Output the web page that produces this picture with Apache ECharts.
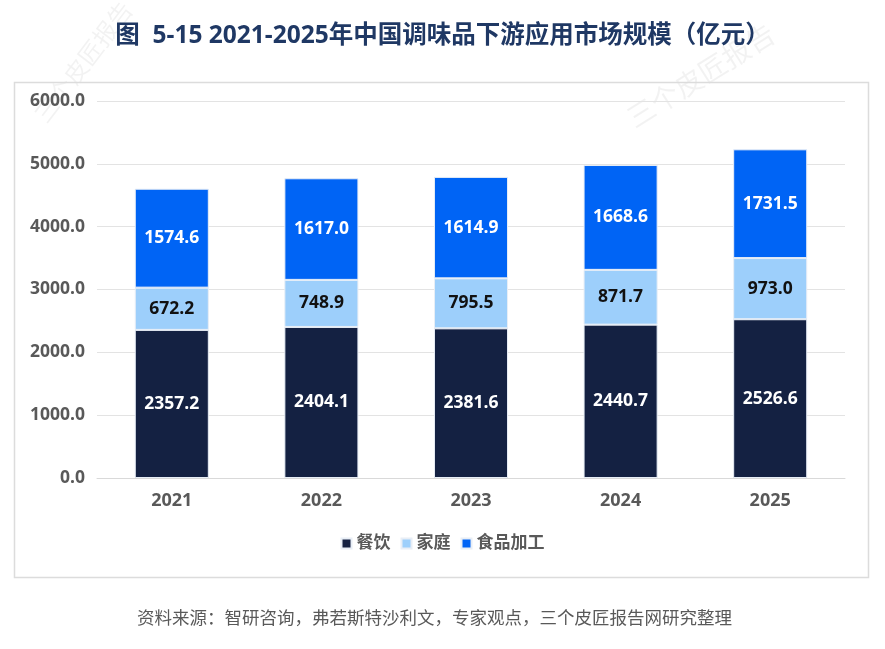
<!DOCTYPE html>
<html>
<head>
<meta charset="utf-8">
<script src="https://cdn.jsdelivr.net/npm/echarts@6/dist/echarts.min.js"></script>
<style>
  html, body { margin: 0; padding: 0; background: #fff; }
  #chart { width: 885px; height: 649px; }
</style>
</head>
<body>
<div id="chart"></div>
<script>
var years = ['2021', '2022', '2023', '2024', '2025'];
var dining = [2357.2, 2404.1, 2381.6, 2440.7, 2526.6];
var household = [672.2, 748.9, 795.5, 871.7, 973.0];
var processing = [1574.6, 1617.0, 1614.9, 1668.6, 1731.5];
var seriesNames = ['餐饮', '家庭', '食品加工'];

var font = '"Open Sans", "Noto Sans CJK SC", sans-serif';
var myChart = echarts.init(document.getElementById('chart'));

function labelStyle(color) {
  return {
    show: true,
    position: 'inside',
    color: color,
    fontSize: 17.5,
    fontWeight: 'bold',
    fontFamily: font,
    formatter: function (p) { return p.value.toFixed(1); }
  };
}

var option = {
  backgroundColor: '#fff',
  animation: false,
  title: {
    text: '图  5-15 2021-2025年中国调味品下游应用市场规模（亿元）',
    left: 'center',
    top: 19,
    textStyle: { color: '#1F3864', fontSize: 24.5, fontWeight: 'bold', fontFamily: font }
  },
  graphic: [
    { type: 'rect', left: 12, top: 80, shape: { width: 854, height: 495 },
      style: { fill: 'none', stroke: '#dcdcdc', lineWidth: 1.5 }, z: -1 },
    { type: 'text', x: 30, y: 112, rotation: 0.92,
      style: { text: '三个皮匠报告', fill: 'rgba(0,0,0,0.05)', font: '24px "Noto Sans CJK SC"' }, z: -2 },
    { type: 'text', x: 622, y: 108, rotation: 0.56,
      style: { text: '三个皮匠报告', fill: 'rgba(0,0,0,0.05)', font: '28px "Noto Sans CJK SC"' }, z: -2 },
    { type: 'text', left: 137, top: 609,
      style: { text: '资料来源：智研咨询，弗若斯特沙利文，专家观点，三个皮匠报告网研究整理',
        fill: '#595959', font: '17.5px "Noto Sans CJK SC"' } }
  ],
  legend: {
    data: seriesNames,
    bottom: 92,
    left: 'center',
    itemWidth: 10,
    itemHeight: 10,
    itemGap: 10,
    icon: 'rect',
    textStyle: { color: '#595959', fontSize: 17, fontWeight: 'bold', fontFamily: font }
  },
  grid: { left: 97, right: 40, top: 101, bottom: 171 },
  xAxis: {
    type: 'category',
    data: years,
    axisLine: { lineStyle: { color: '#d9d9d9' } },
    axisTick: { show: false },
    axisLabel: { color: '#595959', fontSize: 18, fontWeight: 'bold', fontFamily: font, margin: 14 }
  },
  yAxis: {
    type: 'value',
    min: 0,
    max: 6000,
    interval: 1000,
    axisLine: { show: false },
    axisTick: { show: false },
    splitLine: { lineStyle: { color: '#e3e3e3' } },
    axisLabel: {
      color: '#595959', fontSize: 17.5, fontWeight: 'bold', fontFamily: font, margin: 12,
      formatter: function (v) { return v.toFixed(1); }
    }
  },
  series: [
    { name: seriesNames[0], type: 'bar', stack: 'total', data: dining, barWidth: '49.5%',
      itemStyle: { color: '#142142', borderColor: '#e8eef6', borderWidth: 1 },
      label: labelStyle('#ffffff') },
    { name: seriesNames[1], type: 'bar', stack: 'total', data: household,
      itemStyle: { color: '#9DCFFB', borderColor: '#e8eef6', borderWidth: 1 },
      label: labelStyle('#111111') },
    { name: seriesNames[2], type: 'bar', stack: 'total', data: processing,
      itemStyle: { color: '#0064F5', borderColor: '#e8eef6', borderWidth: 1 },
      label: labelStyle('#ffffff') }
  ]
};

myChart.setOption(option);
</script>
</body>
</html>
